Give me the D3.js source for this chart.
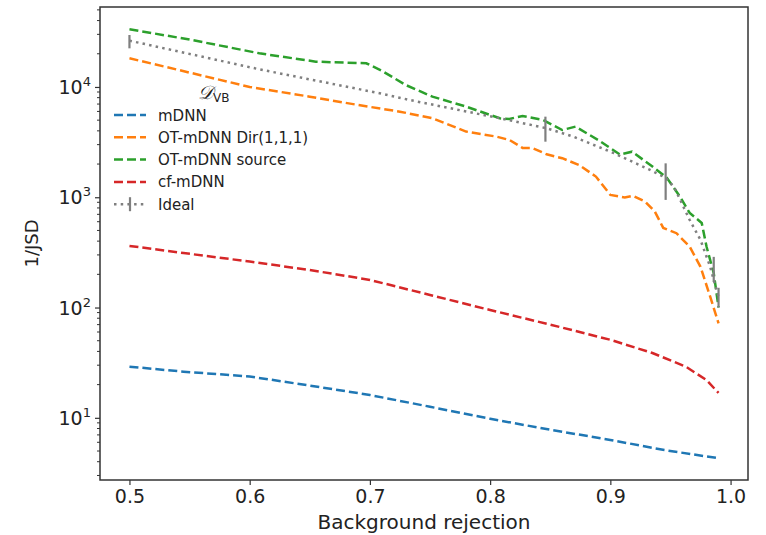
<!DOCTYPE html>
<html>
<head>
<meta charset="utf-8">
<script src="https://cdn.jsdelivr.net/npm/d3@7"></script>
<style>
  body { margin: 0; background: #fff; }
  svg text { font-family: "DejaVu Sans", sans-serif; fill: #222; }
</style>
</head>
<body>
<div id="chart"></div>
<script>
// values
const seriesNames = ['mDNN', 'OT-mDNN Dir(1,1,1)', 'OT-mDNN source', 'cf-mDNN', 'Ideal'];
const seriesColors = ['#1f77b4', '#ff7f0e', '#2ca02c', '#d62728', '#7f7f7f'];

const mdnnX = [0.5, 0.545, 0.6, 0.65, 0.7, 0.75, 0.8, 0.85, 0.9, 0.945, 0.99];
const mdnnY = [29.1, 26.2, 23.7, 19.6, 16.1, 12.6, 9.8, 7.8, 6.3, 5.1, 4.3];

const dirX = [0.5, 0.55, 0.6, 0.65, 0.69, 0.725, 0.752, 0.78, 0.805, 0.816, 0.827, 0.835,
  0.847, 0.86, 0.874, 0.888, 0.9, 0.912, 0.919, 0.929, 0.937, 0.944, 0.955, 0.966,
  0.975, 0.983, 0.99];
const dirY = [18200, 13500, 10000, 8170, 6870, 5970, 5200, 3940, 3550, 3310, 2800, 2800,
  2450, 2260, 1960, 1540, 1050, 993, 1030, 912, 741, 527, 472, 356, 234, 126, 72];

const sourceX = [0.5, 0.55, 0.608, 0.655, 0.697, 0.71, 0.73, 0.752, 0.78, 0.808, 0.816,
  0.827, 0.844, 0.86, 0.871, 0.89, 0.908, 0.918, 0.935, 0.947, 0.958, 0.966, 0.976,
  0.98, 0.986, 0.99];
const sourceY = [33400, 26900, 20200, 16960, 16400, 14000, 10400, 8170, 6640, 5200, 5130,
  5460, 5020, 4070, 4370, 3300, 2440, 2590, 1900, 1500, 1010, 720, 585, 357, 205, 100];

const cfX = [0.5, 0.545, 0.6, 0.65, 0.7, 0.75, 0.8, 0.85, 0.9, 0.935, 0.963, 0.98, 0.99];
const cfY = [362, 312, 261, 219, 178, 130, 95, 70, 51, 38.7, 29, 22, 16.8];

const idealX = [0.5, 0.608, 0.708, 0.733, 0.815, 0.847, 0.869, 0.903, 0.933, 0.946, 0.953,
  0.966, 0.975, 0.983, 0.986, 0.99];
const idealY = [26300, 14460, 8770, 7620, 5020, 4220, 3550, 2510, 1770, 1500, 1240,
  622, 410, 235, 178, 125];

const errX = [0.5, 0.846, 0.946, 0.986, 0.99];
const errLo = [22400, 3190, 946, 171, 100];
const errHi = [29600, 5380, 2030, 288, 151];

const xTicks = [0.5, 0.6, 0.7, 0.8, 0.9, 1.0];
const yTicks = [10, 100, 1000, 10000];

(function () {
  let margin = { top: 7, right: 18, bottom: 55, left: 100 };
  let width = 766 - margin.left - margin.right;
  let height = 535 - margin.top - margin.bottom;

  let svg = d3
    .select('#chart')
    .append('svg')
    .attr('width', 766)
    .attr('height', 535);

  let g = svg
    .append('g')
    .attr('transform', `translate(${margin.left}, ${margin.top})`);

  let x = d3.scaleLinear().domain([0.4755, 1.0145]).range([0, width]);
  let y = d3.scaleLog().domain([2.73, 53100]).range([height, 0]);

  // x axis
  let xAxis = g
    .append('g')
    .attr('transform', `translate(0, ${height})`)
    .call(d3.axisBottom(x).tickValues(xTicks).tickFormat(d3.format('.1f')).tickSize(5).tickPadding(5));
  xAxis.select('.domain').remove();
  xAxis.selectAll('line').attr('stroke', '#333').attr('stroke-width', 1.2);
  xAxis.selectAll('text').attr('font-size', 19).attr('fill', '#222');

  // y minor ticks
  let minor = [];
  for (let e = 0; e <= 4; e++) {
    for (let k = 2; k <= 9; k++) {
      let v = k * Math.pow(10, e);
      if (v > y.domain()[0] && v < y.domain()[1]) minor.push(v);
    }
  }
  g.append('g')
    .selectAll('line')
    .data(minor)
    .enter()
    .append('line')
    .attr('x1', -3)
    .attr('x2', 0)
    .attr('y1', (d) => y(d))
    .attr('y2', (d) => y(d))
    .attr('stroke', '#333')
    .attr('stroke-width', 1);

  let yAxis = g
    .append('g')
    .call(d3.axisLeft(y).tickValues(yTicks).tickFormat('').tickSize(5));
  yAxis.select('.domain').remove();
  yAxis.selectAll('line').attr('stroke', '#333').attr('stroke-width', 1.2);

  let yLab = g
    .append('g')
    .selectAll('text')
    .data(yTicks)
    .enter()
    .append('text')
    .attr('x', -9)
    .attr('y', (d) => y(d) + 7)
    .attr('text-anchor', 'end')
    .attr('font-size', 19);
  yLab.append('tspan').text('10');
  yLab
    .append('tspan')
    .attr('font-size', 13)
    .attr('dy', -8)
    .text((d) => Math.round(Math.log10(d)));

  // axis labels
  svg
    .append('text')
    .attr('x', margin.left + width / 2)
    .attr('y', 529)
    .attr('text-anchor', 'middle')
    .attr('font-size', 20)
    .text('Background rejection');

  svg
    .append('text')
    .attr('transform', `translate(38, ${margin.top + height / 2}) rotate(-90)`)
    .attr('text-anchor', 'middle')
    .attr('font-size', 18)
    .text('1/JSD');

  // curves
  let line = d3
    .line()
    .x((d) => x(d[0]))
    .y((d) => y(d[1]));

  let curves = [
    [mdnnX, mdnnY],
    [dirX, dirY],
    [sourceX, sourceY],
    [cfX, cfY],
  ];

  curves.forEach((c, i) => {
    g.append('path')
      .datum(d3.zip(c[0], c[1]))
      .attr('d', line)
      .attr('fill', 'none')
      .attr('stroke', seriesColors[i])
      .attr('stroke-width', 2.5)
      .attr('stroke-dasharray', '9,4');
  });

  g.append('path')
    .datum(d3.zip(idealX, idealY))
    .attr('d', line)
    .attr('fill', 'none')
    .attr('stroke', seriesColors[4])
    .attr('stroke-width', 2.5)
    .attr('stroke-dasharray', '2.5,4.2');

  g.append('g')
    .selectAll('line')
    .data(d3.range(errX.length))
    .enter()
    .append('line')
    .attr('x1', (i) => x(errX[i]))
    .attr('x2', (i) => x(errX[i]))
    .attr('y1', (i) => y(errLo[i]))
    .attr('y2', (i) => y(errHi[i]))
    .attr('stroke', seriesColors[4])
    .attr('stroke-width', 2.2);

  // frame
  g.append('rect')
    .attr('width', width)
    .attr('height', height)
    .attr('fill', 'none')
    .attr('stroke', '#333')
    .attr('stroke-width', 1.5);

  // legend
  let leg = svg.append('g');
  let title = leg
    .append('text')
    .attr('x', 198)
    .attr('y', 99)
    .attr('font-size', 19);
  title
    .append('tspan')
    .attr('font-family', '"DejaVu Serif", serif')
    .attr('font-style', 'italic')
    .text('\u{1D49F}');
  title.append('tspan').attr('font-size', 12).attr('dy', 3).text('VB');

  let rows = leg
    .selectAll('g.row')
    .data(seriesNames)
    .enter()
    .append('g')
    .attr('class', 'row')
    .attr('transform', (d, i) => `translate(0, ${115 + i * 22.3})`);

  rows
    .append('line')
    .attr('x1', 114)
    .attr('x2', 146)
    .attr('stroke', (d, i) => seriesColors[i])
    .attr('stroke-width', 2.5)
    .attr('stroke-dasharray', (d, i) => (i === 4 ? '2.5,4.2' : '9,4'));

  rows
    .filter((d, i) => i === 4)
    .append('line')
    .attr('x1', 130)
    .attr('x2', 130)
    .attr('y1', -7)
    .attr('y2', 7)
    .attr('stroke', seriesColors[4])
    .attr('stroke-width', 2.2);

  rows
    .append('text')
    .attr('x', 158)
    .attr('y', 5.5)
    .attr('font-size', 15)
    .text((d) => d);
})();
</script>
</body>
</html>
